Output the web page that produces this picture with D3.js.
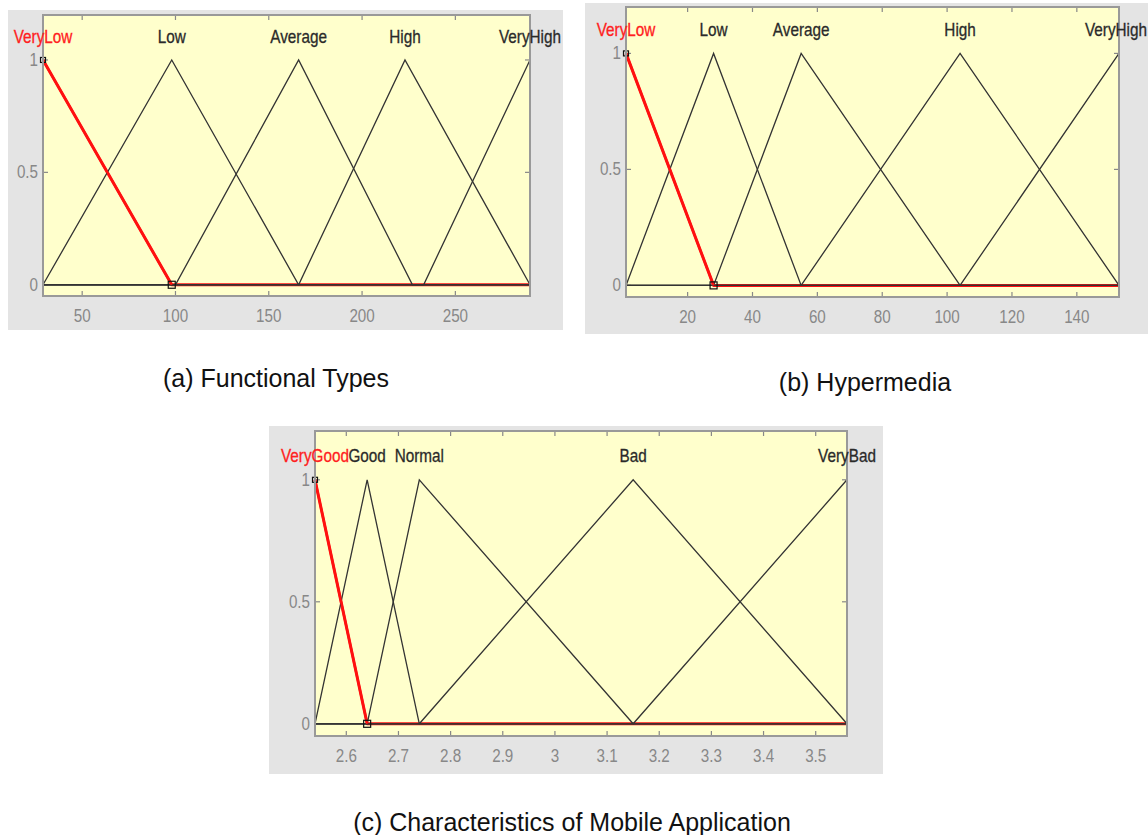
<!DOCTYPE html>
<head>
    <meta charset="utf-8">
    <title>Membership functions</title>
    <script src="https://d3js.org/d3.v7.min.js"></script>
    <style>
        body{
            margin: 0;
            background: #ffffff;
        }
        text{
            font-family: "Liberation Sans", Arial, sans-serif;
        }
        text.caption{
            font-size: 25px;
            fill: #111111;
        }
        text.tickLabel{
            fill: #888888;
        }
        text.mfLabel{
            fill: #2a2a2a;
            stroke: #2a2a2a;
            stroke-width: 0.3;
        }
        text.mfLabel.selected{
            fill: #ff2020;
            stroke: #ff2020;
        }
    </style>
</head>
<body>
<script>
    // membership functions: [a, b, c] of each triangle
    const aNames = ["VeryLow", "Low", "Average", "High", "VeryHigh"];
    const aParams = [[29, 29, 98], [29, 98, 166], [100, 166, 227], [166, 223, 290], [233, 290, 290]];
    const aDomain = [29, 290];
    const aTicks = [50, 100, 150, 200, 250];

    const bNames = ["VeryLow", "Low", "Average", "High", "VeryHigh"];
    const bParams = [[1, 1, 28], [1, 28, 55], [28, 55, 104], [55, 104, 153], [104, 153, 153]];
    const bDomain = [1, 153];
    const bTicks = [20, 40, 60, 80, 100, 120, 140];

    const cNames = ["VeryGood", "Good", "Normal", "Bad", "VeryBad"];
    const cParams = [[2.54, 2.54, 2.64], [2.54, 2.64, 2.74], [2.64, 2.74, 3.15], [2.74, 3.15, 3.56], [3.15, 3.56, 3.56]];
    const cDomain = [2.54, 3.56];
    const cTicks = [2.6, 2.7, 2.8, 2.9, 3, 3.1, 3.2, 3.3, 3.4, 3.5];

    const yTicks = [0, 0.5, 1];
    const yDomain = [-0.05, 1.2];
    const captions = ["(a) Functional Types", "(b) Hypermedia", "(c) Characteristics of Mobile Application"];
    const selectedIndex = 0;

    const pageWidth = 1148;

    var svg = d3.select("body").append("svg")
        .attr("width", pageWidth)
        .attr("height", 835);

    // layout of each plot on the page
    const panels = [
        {names: aNames, params: aParams, domain: aDomain, ticks: aTicks, caption: captions[0],
            frame: {x: 8, y: 10, w: 555, h: 320}, box: {left: 43, right: 530, top: 15, bottom: 296}, cap: [276, 387]},
        {names: bNames, params: bParams, domain: bDomain, ticks: bTicks, caption: captions[1],
            frame: {x: 585, y: 3, w: 563, h: 331}, box: {left: 626, right: 1119, top: 7, bottom: 297}, cap: [865, 391]},
        {names: cNames, params: cParams, domain: cDomain, ticks: cTicks, caption: captions[2],
            frame: {x: 269, y: 426, w: 614, h: 348}, box: {left: 315, right: 847, top: 431, bottom: 736}, cap: [572, 831]}
    ];

    // squeezed text, the picture's fonts are narrow
    const squeezed = function(sel, cls, x, y, str, size, sx, anchor) {
        return sel.append("text")
            .attr("class", cls)
            .attr("transform", `translate(${x},${y}) scale(${sx},1)`)
            .attr("text-anchor", anchor)
            .style("font-size", size + "px")
            .text(str);
    };

    panels.forEach(function(p) {
        let g = svg.append("g");
        let b = p.box;

        let x = d3.scaleLinear().domain(p.domain).range([b.left, b.right]);
        let y = d3.scaleLinear().domain(yDomain).range([b.bottom, b.top]);

        // grey figure background
        g.append("rect")
            .attr("x", p.frame.x).attr("y", p.frame.y)
            .attr("width", p.frame.w).attr("height", p.frame.h)
            .style("fill", "#e4e4e4");

        // yellow axes
        g.append("rect")
            .attr("x", b.left).attr("y", b.top)
            .attr("width", b.right - b.left).attr("height", b.bottom - b.top)
            .style("fill", "#ffffcc");

        // inward ticks on all four sides
        let tl = 5;
        p.ticks.forEach(function(t) {
            g.append("line").attr("x1", x(t)).attr("x2", x(t)).attr("y1", b.bottom).attr("y2", b.bottom - tl)
                .style("stroke", "#888").style("stroke-width", 1.2);
            g.append("line").attr("x1", x(t)).attr("x2", x(t)).attr("y1", b.top).attr("y2", b.top + tl)
                .style("stroke", "#888").style("stroke-width", 1.2);
            squeezed(g, "tickLabel", x(t), b.bottom + 26, d3.format("~g")(t), 19, 0.8, "middle");
        });
        yTicks.forEach(function(t) {
            g.append("line").attr("x1", b.left).attr("x2", b.left + tl).attr("y1", y(t)).attr("y2", y(t))
                .style("stroke", "#888").style("stroke-width", 1.2);
            g.append("line").attr("x1", b.right).attr("x2", b.right - tl).attr("y1", y(t)).attr("y2", y(t))
                .style("stroke", "#888").style("stroke-width", 1.2);
            squeezed(g, "tickLabel", b.left - 5, y(t) + 6, d3.format("~g")(t), 19, 0.8, "end");
        });

        // each triangle over the whole range, zero outside its support
        const mfPoints = function(prm) {
            let pts = [];
            if (prm[0] > p.domain[0]) pts.push([p.domain[0], 0]);
            pts.push([prm[0], prm[0] == prm[1] ? 1 : 0]);
            if (prm[1] != prm[0]) pts.push([prm[1], 1]);
            if (prm[2] != prm[1]) pts.push([prm[2], 0]);
            if (prm[2] < p.domain[1]) pts.push([p.domain[1], 0]);
            return pts;
        };

        let line = d3.line().x(d => x(d[0])).y(d => y(d[1]));

        // selected function first, in red, the others over it
        g.append("path")
            .attr("d", line(mfPoints(p.params[selectedIndex])))
            .style("fill", "none")
            .style("stroke", "#ff1010")
            .style("stroke-width", 3)
            .style("stroke-linejoin", "round");

        p.params.forEach(function(prm, i) {
            if (i == selectedIndex) return;
            g.append("path")
                .attr("d", line(mfPoints(prm)))
                .style("fill", "none")
                .style("stroke", "#333333")
                .style("stroke-width", 1.3);
        });

        // red slope again on top
        let sel = p.params[selectedIndex];
        g.append("path")
            .attr("d", line([[sel[1], 1], [sel[2], 0]]))
            .style("fill", "none")
            .style("stroke", "#ff1010")
            .style("stroke-width", 2.3);

        // vertex markers of the selected function
        [[sel[1], 1, 5], [sel[2], 0, 7]].forEach(function(m) {
            g.append("rect")
                .attr("x", x(m[0]) - m[2] / 2).attr("y", y(m[1]) - m[2] / 2)
                .attr("width", m[2]).attr("height", m[2])
                .style("fill", "none")
                .style("stroke", "#111")
                .style("stroke-width", 1.2);
        });

        // axes border
        g.append("rect")
            .attr("x", b.left).attr("y", b.top)
            .attr("width", b.right - b.left).attr("height", b.bottom - b.top)
            .style("fill", "none")
            .style("stroke", "#999")
            .style("stroke-width", 2);

        // labels above the peaks, kept inside the page
        p.names.forEach(function(n, i) {
            let cx = x(p.params[i][1]);
            let t = squeezed(g, i == selectedIndex ? "mfLabel selected" : "mfLabel",
                cx, y(1.075), n, 18, 0.85, "middle");
            let half = t.node().getBBox().width * 0.85 / 2;
            if (cx + half > pageWidth - 1) {
                t.attr("transform", `translate(${pageWidth - 1 - half},${y(1.075)}) scale(0.85,1)`);
            }
        });

        g.append("text")
            .attr("class", "caption")
            .attr("x", p.cap[0])
            .attr("y", p.cap[1])
            .attr("text-anchor", "middle")
            .text(p.caption);
    });
</script>
</body>
